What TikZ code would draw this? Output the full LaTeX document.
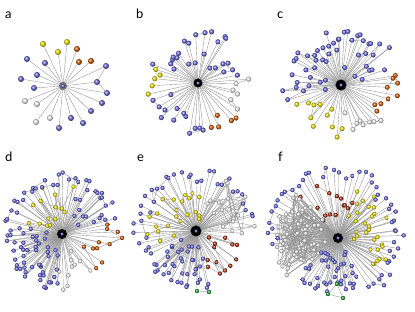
\documentclass[tikz,border=0pt]{standalone}
\usepackage{fontspec}
\newfontfamily\panelfont{Lato}
\usetikzlibrary{calc}
\pgfdeclarelayer{edges}
\pgfsetlayers{edges,main}
\definecolor{nblue}{RGB}{100,100,220}
\definecolor{nyellow}{RGB}{235,225,0}
\definecolor{norange}{RGB}{205,85,0}
\definecolor{nred}{RGB}{165,40,10}
\definecolor{nwhite}{RGB}{240,240,240}
\definecolor{ngreen}{RGB}{30,165,40}
\def\nsz{5}
\tikzset{
  ball/.style={circle, inner sep=0pt, minimum size=\nsz pt, ball color=#1},
  edge/.style={draw=black!42, line width=0.38pt},
  panel label/.style={anchor=base west, inner sep=0pt, font=\panelfont\fontsize{13}{15}\selectfont},
}
% one coloured cluster round a hub: hub, tag, colour, count, from, to, inner, outer, link chance
\newcommand\cluster[9]{%
  \foreach \i in {1,...,#4}{
    \pgfmathsetmacro\ang{#5+(#6-#5)*(\i-rnd)/#4}
    \pgfmathsetmacro\rad{#7+(#8-#7)*pow(rnd,0.7)}
    \node[ball=#3] (#1-#2-\i) at ($(#1)+(\ang:\rad)$) {};
  }%
  \begin{pgfonlayer}{edges}
    \foreach \i in {1,...,#4}{
      \draw[edge] (#1) -- (#1-#2-\i);
      \pgfmathtruncatemacro\lk{(rnd<#9)*(\i>1)}
      \ifnum\lk=1
        \pgfmathtruncatemacro\j{max(1,\i-1-floor(2.9*rnd))}
        \draw[edge] (#1-#2-\i) -- (#1-#2-\j);
      \fi
    }%
  \end{pgfonlayer}%
}
% random links inside a cluster: hub, tag, count, links
\newcommand\crosslinks[4]{%
  \begin{pgfonlayer}{edges}
    \foreach \k in {1,...,#4}{
      \pgfmathtruncatemacro\p{random(1,#3)}
      \pgfmathtruncatemacro\q{random(1,#3)}
      \draw[edge] (#1-#2-\p) -- (#1-#2-\q);
    }
  \end{pgfonlayer}%
}
% dark centre of a hub
\newcommand\hubcore[2]{%
  \begin{pgfonlayer}{edges}
    \fill[black] (#1) circle (#2);
  \end{pgfonlayer}
  \node[ball=nblue, minimum size=3.6pt] (#1-c) at (#1) {};%
}

\begin{document}
\begin{tikzpicture}[x=1pt,y=-1pt]
  \useasboundingbox (0,0) rectangle (415,312);
  \pgfmathsetseed{11}

  % panel labels
  \node[panel label] (la) at (5,19) {a};
  \node[panel label] (lb) at (136,19) {b};
  \node[panel label] (lc) at (277,19) {c};
  \node[panel label] (ld) at (5,161.5) {d};
  \node[panel label] (le) at (137,161.5) {e};
  \node[panel label] (lf) at (278,161.5) {f};

  % a
  \def\nsz{6}
  \coordinate (pa) at (63,86);
  \foreach \x/\y/\c [count=\k] in {43/44/nyellow, 67/42/nyellow, 58/52/nyellow,
      77/49/norange, 79/62/norange, 91/61/norange,
      27/59/nblue, 45/63/nblue, 106/66/nblue, 37/75/nblue, 97/82/nblue, 21/79/nblue,
      34/88/nblue, 107/93/nblue, 102/103/nblue, 91/111/nblue, 71/118/nblue, 83/123/nblue,
      59/128/nblue, 25/101/nwhite, 37/104/nwhite, 50/118/nwhite, 36/122/nwhite}{
    \node[ball=\c] (pa-\k) at (\x,\y) {};
  }
  \begin{pgfonlayer}{edges}
    \foreach \k in {1,...,23}{
      \draw[edge] (pa) -- (pa-\k);
    }
    \draw[edge] (pa-9) -- (pa-11) -- (pa-14);
    \fill[black!55] (pa) circle (4);
  \end{pgfonlayer}
  \node[ball=nblue, minimum size=4.5pt] (pa-c) at (pa) {};

  % b
  \def\nsz{5.2}
  \coordinate (pb) at (198,83);
  \cluster{pb}{y}{nyellow}{5}{165}{200}{25}{52}{0.1}
  \cluster{pb}{o}{norange}{5}{40}{78}{30}{55}{0.2}
  \cluster{pb}{w}{nwhite}{6}{-10}{35}{30}{54}{0.2}
  \cluster{pb}{bl}{nblue}{13}{78}{165}{20}{56}{0.3}
  \cluster{pb}{bu}{nblue}{25}{200}{350}{18}{54}{0.05}
  \hubcore{pb}{4.5}

  % c
  \def\nsz{5}
  \coordinate (pc) at (341,85);
  \cluster{pc}{o}{norange}{9}{-15}{38}{35}{60}{0.4}
  \cluster{pc}{w}{nwhite}{8}{38}{85}{20}{58}{0.4}
  \cluster{pc}{y}{nyellow}{11}{85}{160}{20}{54}{0.3}
  \cluster{pc}{b}{nblue}{50}{160}{345}{15}{62}{0.25}
  \hubcore{pc}{5.5}

  % d
  \def\nsz{4.4}
  \coordinate (pd) at (62,234);
  \cluster{pd}{y}{nyellow}{14}{195}{285}{12}{50}{0.4}
  \cluster{pd}{bo}{nblue}{20}{190}{290}{45}{62}{0.4}
  \cluster{pd}{br}{nblue}{22}{290}{345}{15}{62}{0.3}
  \cluster{pd}{o}{norange}{11}{-15}{45}{25}{62}{0.5}
  \cluster{pd}{w}{nwhite}{10}{50}{95}{18}{56}{0.4}
  \cluster{pd}{bl}{nblue}{50}{95}{190}{15}{58}{0.35}
  \hubcore{pd}{5}

  % e
  \coordinate (pe) at (196,231);
  \cluster{pe}{y}{nyellow}{22}{160}{290}{12}{52}{0.4}
  \cluster{pe}{bo}{nblue}{26}{150}{290}{48}{63}{0.3}
  \cluster{pe}{w}{nwhite}{18}{290}{365}{15}{63}{0.5}
  \cluster{pe}{bu}{nblue}{10}{290}{350}{50}{63}{0.2}
  \cluster{pe}{r}{nred}{13}{10}{75}{12}{50}{0.5}
  \cluster{pe}{bl}{nblue}{40}{75}{150}{15}{58}{0.35}
  \crosslinks{pe}{w}{18}{20}
  \node[ball=ngreen] (pe-g-1) at (197,291) {};
  \node[ball=ngreen] (pe-g-2) at (209,292) {};
  \begin{pgfonlayer}{edges}
    \draw[edge] (pe) -- (pe-g-1) -- (pe-g-2);
  \end{pgfonlayer}
  \hubcore{pe}{5.5}

  % f
  \coordinate (pf) at (338,238);
  \cluster{pf}{r}{nred}{14}{225}{295}{18}{60}{0.4}
  \cluster{pf}{y}{nyellow}{30}{290}{400}{10}{55}{0.4}
  \cluster{pf}{w}{nwhite}{60}{140}{230}{10}{64}{1}
  \cluster{pf}{bo}{nblue}{24}{170}{300}{58}{72}{0.2}
  \cluster{pf}{bu}{nblue}{25}{300}{420}{52}{66}{0.2}
  \cluster{pf}{bl}{nblue}{40}{60}{140}{15}{57}{0.3}
  \crosslinks{pf}{w}{60}{90}
  \node[ball=ngreen] (pf-g-1) at (337,284) {};
  \node[ball=ngreen] (pf-g-2) at (328,294) {};
  \node[ball=ngreen] (pf-g-3) at (343,298) {};
  \begin{pgfonlayer}{edges}
    \draw[edge] (pf) -- (pf-g-1) -- (pf-g-2) -- (pf-g-3) -- (pf-g-1);
  \end{pgfonlayer}
  \hubcore{pf}{5}
\end{tikzpicture}
\end{document}
